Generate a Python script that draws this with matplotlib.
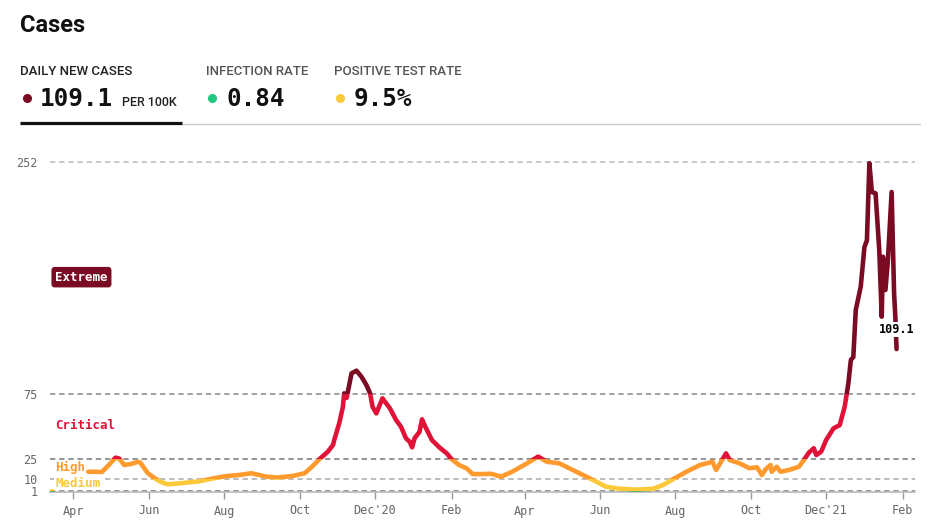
import matplotlib
matplotlib.use("Agg")
import matplotlib.pyplot as plt
import matplotlib.transforms as mtransforms
from matplotlib.patches import Rectangle
import numpy as np

# daily new cases per 100k
dates = [
    "2020-03-13", "2020-03-15", "2020-03-16",
    "2020-04-13", "2020-04-24", "2020-04-29", "2020-05-05", "2020-05-08",
    "2020-05-12", "2020-05-18", "2020-05-23", "2020-05-25", "2020-05-31",
    "2020-06-05", "2020-06-10", "2020-06-16", "2020-06-26", "2020-07-12",
    "2020-07-23", "2020-08-03", "2020-08-13", "2020-08-23", "2020-09-04",
    "2020-09-13", "2020-09-25", "2020-10-05", "2020-10-11", "2020-10-17",
    "2020-10-24", "2020-10-28", "2020-10-29", "2020-11-02", "2020-11-05",
    "2020-11-06", "2020-11-08", "2020-11-12", "2020-11-16", "2020-11-20",
    "2020-11-24", "2020-11-27", "2020-11-29", "2020-12-02", "2020-12-07",
    "2020-12-13", "2020-12-18", "2020-12-22", "2020-12-26", "2020-12-29",
    "2020-12-31", "2021-01-02", "2021-01-06", "2021-01-08", "2021-01-10",
    "2021-01-12", "2021-01-16", "2021-01-22", "2021-01-28", "2021-02-01",
    "2021-02-07", "2021-02-13", "2021-02-18", "2021-02-26", "2021-03-05",
    "2021-03-13", "2021-03-22", "2021-04-03", "2021-04-12", "2021-04-19",
    "2021-04-29", "2021-05-10", "2021-05-21", "2021-05-29", "2021-06-06",
    "2021-06-17", "2021-07-01", "2021-07-14", "2021-07-22", "2021-07-30",
    "2021-08-10", "2021-08-21", "2021-08-31", "2021-09-03", "2021-09-07",
    "2021-09-11", "2021-09-14", "2021-09-22", "2021-09-30", "2021-10-06",
    "2021-10-10", "2021-10-13", "2021-10-17", "2021-10-18", "2021-10-22",
    "2021-10-25", "2021-11-01", "2021-11-09", "2021-11-13", "2021-11-17",
    "2021-11-21", "2021-11-23", "2021-11-27", "2021-12-01", "2021-12-07",
    "2021-12-12", "2021-12-16", "2021-12-19", "2021-12-21", "2021-12-23",
    "2021-12-25", "2021-12-29", "2022-01-01", "2022-01-03", "2022-01-05",
    "2022-01-07", "2022-01-10", "2022-01-13", "2022-01-15", "2022-01-16",
    "2022-01-18", "2022-01-20", "2022-01-23", "2022-01-25", "2022-01-26",
    "2022-01-27",
]
cases = [
    0.4, 0.5, np.nan,
    15.5, 15.3, 20.0, 26.2, 25.5,
    20.6, 21.5, 23.0, 22.5, 14.5,
    11.0, 8.0, 5.9, 6.6, 8.2,
    10.4, 12.2, 13.0, 14.3, 11.7,
    11.0, 12.2, 14.3, 19.3, 25.0,
    31.0, 35.9, 39.7, 52.4, 65.0,
    75.3, 71.8, 90.6, 92.6, 88.0,
    81.7, 75.3, 65.0, 60.0, 71.5,
    63.9, 55.0, 49.8, 41.0, 38.4,
    34.1, 41.0, 46.0, 55.5, 51.1,
    47.3, 39.7, 34.1, 29.5, 25.0,
    20.6, 18.1, 13.7, 13.7, 13.9,
    11.7, 15.5, 21.9, 27.0, 23.1,
    21.9, 16.8, 11.7, 7.9, 4.0,
    2.5, 1.8, 2.5, 5.3, 9.7,
    15.5, 20.6, 23.1, 16.8, 23.1,
    29.5, 24.4, 21.9, 18.1, 18.9,
    13.0, 17.3, 20.6, 15.5, 19.3,
    15.5, 16.8, 19.3, 24.4, 30.0,
    33.4, 28.2, 30.8, 39.7, 48.6,
    51.1, 65.0, 82.9, 100.8, 103.0,
    139.0, 156.7, 187.0, 192.0, 251.0,
    229.0, 228.0, 184.7, 133.8, 179.6,
    154.2, 177.0, 229.0, 151.7, 133.8,
    109.1,
]

# risk bands
band_names = ["Low", "Medium", "High", "Critical", "Extreme"]
band_edges = [0, 1, 10, 25, 75, 1000]
band_colors = ["#4caf50", "#fbc93a", "#ff9a2e", "#e01238", "#7a0b22"]

y_ticks = [1, 10, 25, 75, 252]
grid_colors = ["#777777", "#aaaaaa", "#777777", "#888888", "#bbbbbb"]

tick_dates = ["2020-04-01", "2020-06-01", "2020-08-01", "2020-10-01",
              "2020-12-01", "2021-02-01", "2021-04-01", "2021-06-01",
              "2021-08-01", "2021-10-01", "2021-12-01", "2022-02-01"]
tick_labels = ["Apr", "Jun", "Aug", "Oct", "Dec'20", "Feb",
               "Apr", "Jun", "Aug", "Oct", "Dec'21", "Feb"]

x = np.array(dates, dtype="datetime64[D]")
y = np.array(cases, dtype=float)

W, H = 942, 525
fig = plt.figure(figsize=(W / 100, H / 100), dpi=100)


def fx(px):
    return px / W


def fy(py):
    return 1 - py / H


# plot area: x 50..915 px, y=0 at 492 px, 1.31 px per unit
ymax = 260
top_px = 492 - ymax * 1.31
ax = fig.add_axes([fx(50), fy(492), fx(915 - 50), (492 - top_px) / H])
ax.set_xlim(np.datetime64("2020-03-13T00"), np.datetime64("2022-02-10T22"))
ax.set_ylim(0, ymax)

for s in ["top", "right", "left"]:
    ax.spines[s].set_visible(False)
ax.spines["bottom"].set_color("#bbbbbb")
ax.spines["bottom"].set_linewidth(1.2)

for val, col in zip(y_ticks, grid_colors):
    ax.axhline(val, color=col, lw=1.1, ls=(0, (3.5, 2.5)), zorder=1)

# line coloured by band: one copy per band, clipped to that band
for lo, hi, col in zip(band_edges[:-1], band_edges[1:], band_colors):
    (ln,) = ax.plot(x, y, color=col, lw=3.3, solid_joinstyle="round",
                    solid_capstyle="round", zorder=3)
    clip = Rectangle((ax.get_xlim()[0], lo), 1e6, hi - lo,
                     transform=ax.transData)
    ln.set_clip_path(clip)

ax.set_yticks(y_ticks)
ax.set_yticklabels([str(v) for v in y_ticks])
ax.tick_params(axis="y", length=0, pad=9, labelsize=8.5,
               labelcolor="#666666")
for t in ax.get_yticklabels():
    t.set_family("DejaVu Sans Mono")

ax.set_xticks(np.array(tick_dates, dtype="datetime64[D]"))
ax.set_xticklabels(tick_labels)
ax.tick_params(axis="x", length=5, width=1, color="#999999", pad=4,
               labelsize=8.5, labelcolor="#666666")
for t in ax.get_xticklabels():
    t.set_family("DejaVu Sans Mono")

# band labels on the left
trans = mtransforms.blended_transform_factory(ax.transAxes, ax.transData)
mono = "DejaVu Sans Mono"
ax.text(0.006, 164, "Extreme", transform=trans, color="white", fontsize=9,
        family=mono, weight="bold", va="center", ha="left", zorder=5,
        bbox=dict(boxstyle="round,pad=0.3,rounding_size=0.25",
                  fc=band_colors[4], ec="none"))
ax.text(0.006, 51, "Critical", transform=trans, color=band_colors[3],
        fontsize=9, family=mono, weight="bold", va="center", ha="left")
ax.text(0.006, 19, "High", transform=trans, color=band_colors[2],
        fontsize=9, family=mono, weight="bold", va="center", ha="left",
        zorder=5, bbox=dict(fc="white", ec="none", pad=0.5))
ax.text(0.006, 6.7, "Medium", transform=trans, color=band_colors[1],
        fontsize=9, family=mono, weight="bold", va="center", ha="left",
        zorder=5, bbox=dict(fc="white", ec="none", pad=0.5))

# latest value label
ax.text(x[-1], 124, f"{y[-1]:.1f}", color="black", fontsize=8.5,
        family=mono, weight="bold", ha="center", va="center", zorder=6,
        bbox=dict(fc="white", ec="none", pad=1.0))

# header
fig.text(fx(20), fy(31.5), "Cases", fontsize=17, weight="bold",
         family="Roboto", color="#111111", va="baseline")
fig.text(fx(20), fy(75), "DAILY NEW CASES", fontsize=9.5, family="Roboto",
         weight="medium", color="#222222", va="baseline")
fig.text(fx(206), fy(75), "INFECTION RATE", fontsize=9.5, family="Roboto",
         weight="medium", color="#555555", va="baseline")
fig.text(fx(334), fy(75), "POSITIVE TEST RATE", fontsize=9.5,
         family="Roboto", weight="medium", color="#555555", va="baseline")

fig.text(fx(40), fy(106), "109.1", fontsize=17.5, family=mono,
         weight="bold", color="#111111", va="baseline")
fig.text(fx(122), fy(105.5), "PER 100K", fontsize=9, family="Roboto",
         weight="medium", color="#222222", va="baseline")
fig.text(fx(226), fy(106), "0.84", fontsize=17.5, family=mono,
         weight="bold", color="#111111", va="baseline")
fig.text(fx(354), fy(106), "9.5%", fontsize=17.5, family=mono,
         weight="bold", color="#111111", va="baseline")

dot_ax = fig.add_axes([0, 0, 1, 1], facecolor="none")
dot_ax.set_xlim(0, W)
dot_ax.set_ylim(H, 0)
dot_ax.axis("off")
dot_ax.plot([27], [98], "o", color="#7a0b22", ms=5.5)
dot_ax.plot([212], [98], "o", color="#22c77f", ms=5.5)
dot_ax.plot([340], [98], "o", color="#fbc93a", ms=5.5)
dot_ax.plot([182, 920], [124, 124], color="#cccccc", lw=1)
dot_ax.plot([20, 182], [123, 123], color="#111111", lw=2.3,
            solid_capstyle="butt")

fig.savefig("out.png", dpi=100, facecolor="white")
